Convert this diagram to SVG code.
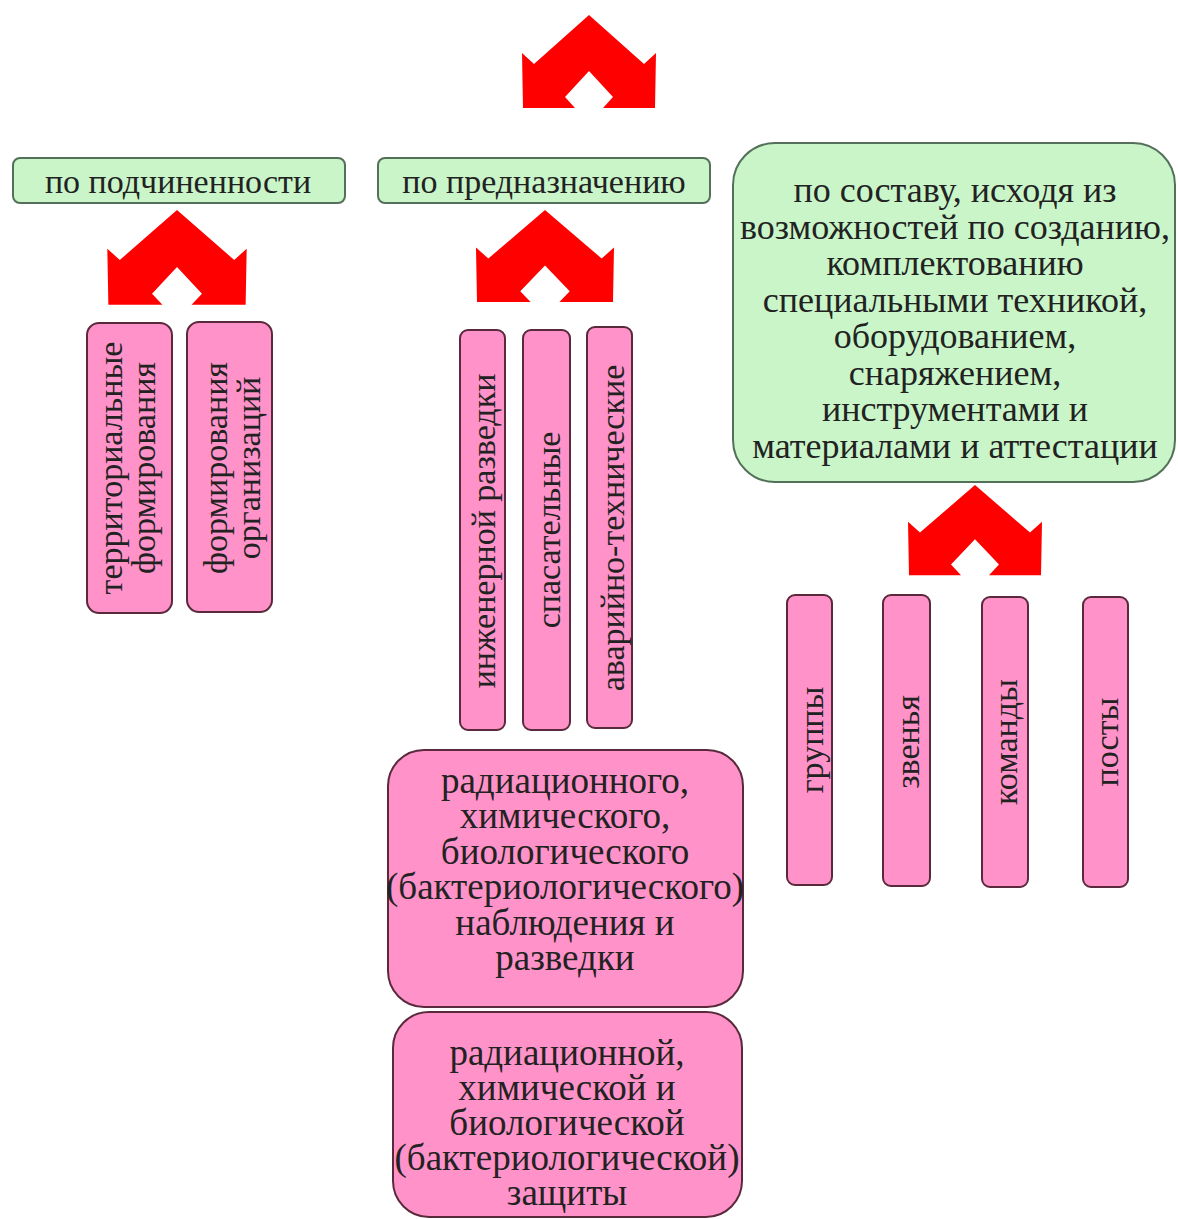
<svg xmlns="http://www.w3.org/2000/svg" width="1178" height="1219" viewBox="0 0 1178 1219">
<style>
text{font-family:"Liberation Serif","Times New Roman",serif;font-size:34px;fill:#222;text-anchor:middle}
.g{fill:#c9f5c9;stroke:#55705a;stroke-width:2}
.p{fill:#ff92c8;stroke:#5a2a3c;stroke-width:2}
.big{font-size:36px}
.bot{font-size:37px}
.arr{fill:#ff0000}
</style>
<defs>
<path id="arr" d="M0,0 L55,49 L67,38 L66,93 L14,93 L24,82 L0,56 L-24,82 L-14,93 L-66,93 L-67,38 L-55,49 Z"/>
</defs>
<rect width="1178" height="1219" fill="#ffffff"/>
<g id="connectors" class="arr">
<use href="#arr" transform="translate(589,15)"/>
<use href="#arr" transform="translate(177,210) scale(1.04,1.02)"/>
<use href="#arr" transform="translate(545,210) scale(1.03,0.99)"/>
<use href="#arr" transform="translate(975,485) scale(1,0.97)"/>
</g>
<g id="n-podch"><rect class="g" x="13" y="158" width="332" height="45" rx="7"/><text x="178" y="193">по подчиненности</text></g>
<g id="n-predn"><rect class="g" x="378" y="158" width="332" height="45" rx="7"/><text x="544" y="193">по предназначению</text></g>
<g id="n-sostav"><rect class="g" x="733" y="143" width="442" height="339" rx="42"/>
<text class="big"><tspan x="955" y="202">по составу, исходя из</tspan><tspan x="955" y="239">возможностей по созданию,</tspan><tspan x="955" y="275">комплектованию</tspan><tspan x="955" y="312">специальными техникой,</tspan><tspan x="955" y="348">оборудованием,</tspan><tspan x="955" y="385">снаряжением,</tspan><tspan x="955" y="421">инструментами и</tspan><tspan x="955" y="458">материалами и аттестации</tspan></text></g>
<g id="n-territ"><rect class="p" x="87" y="323" width="85" height="290" rx="12"/><text transform="translate(122,468) rotate(-90)">территориальные</text><text transform="translate(155,468) rotate(-90)">формирования</text></g>
<g id="n-org"><rect class="p" x="187" y="322" width="85" height="290" rx="12"/><text transform="translate(227,468) rotate(-90)">формирования</text><text transform="translate(260,468) rotate(-90)">организаций</text></g>
<g id="n-inzh"><rect class="p" x="460" y="330" width="45" height="400" rx="8"/><text transform="translate(495,531) rotate(-90)">инженерной разведки</text></g>
<g id="n-spas"><rect class="p" x="523" y="330" width="47" height="400" rx="8"/><text transform="translate(560,530) rotate(-90)">спасательные</text></g>
<g id="n-avar"><rect class="p" x="587" y="327" width="45" height="401" rx="8"/><text transform="translate(624,528) rotate(-90)">аварийно-технические</text></g>
<g id="n-gruppy"><rect class="p" x="787" y="595" width="45" height="290" rx="8"/><text transform="translate(823,740) rotate(-90)">группы</text></g>
<g id="n-zvenya"><rect class="p" x="883" y="595" width="47" height="291" rx="8"/><text transform="translate(919,742) rotate(-90)">звенья</text></g>
<g id="n-komandy"><rect class="p" x="982" y="597" width="46" height="290" rx="8"/><text transform="translate(1017,742) rotate(-90)">команды</text></g>
<g id="n-posty"><rect class="p" x="1083" y="597" width="45" height="290" rx="8"/><text transform="translate(1118,742) rotate(-90)">посты</text></g>
<g id="n-rhb-nabl"><rect class="p" x="388" y="750" width="355" height="257" rx="36"/>
<text class="bot"><tspan x="565" y="793">радиационного,</tspan><tspan x="565" y="828">химического,</tspan><tspan x="565" y="864">биологического</tspan><tspan x="565" y="899">(бактериологического)</tspan><tspan x="565" y="935">наблюдения и</tspan><tspan x="565" y="970">разведки</tspan></text></g>
<g id="n-rhb-zasch"><rect class="p" x="393" y="1012" width="349" height="205" rx="36"/>
<text class="bot"><tspan x="567" y="1065">радиационной,</tspan><tspan x="567" y="1100">химической и</tspan><tspan x="567" y="1135">биологической</tspan><tspan x="567" y="1170">(бактериологической)</tspan><tspan x="567" y="1205">защиты</tspan></text></g>
</svg>
